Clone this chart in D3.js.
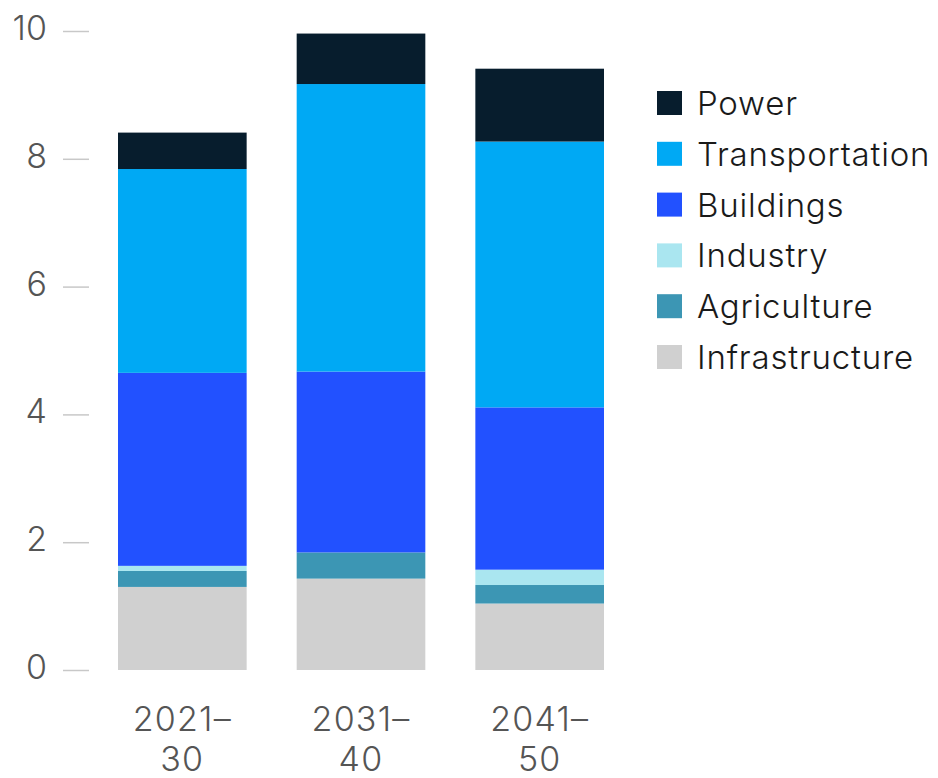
<!DOCTYPE html>
<html>
<head>
<meta charset="utf-8">
<script src="https://cdn.jsdelivr.net/npm/d3@7"></script>
<style>
  html, body { margin: 0; padding: 0; background: #fff; }
  svg { display: block; }
  text { font-family: "Inter", "Liberation Sans", Arial, sans-serif; font-weight: 300; }
</style>
</head>
<body>
<svg id="chart" width="938" height="778"></svg>
<script>
// ---- data ----
const categories = ["2021–30", "2031–40", "2041–50"];
const categoryLines = [["2021–", "30"], ["2031–", "40"], ["2041–", "50"]];
const seriesNames = ["Infrastructure", "Agriculture", "Industry", "Buildings", "Transportation", "Power"];
const infrastructure = [1.30, 1.43, 1.04];
const agriculture    = [0.25, 0.41, 0.29];
const industry       = [0.08, 0.00, 0.24];
const buildings      = [3.02, 2.83, 2.54];
const transportation = [3.19, 4.50, 4.16];
const power          = [0.57, 0.79, 1.14];
const yTicks = [0, 2, 4, 6, 8, 10];
const legendOrder = ["Power", "Transportation", "Buildings", "Industry", "Agriculture", "Infrastructure"];
const colors = {
  Power: "#071d2d",
  Transportation: "#00a9f4",
  Buildings: "#2251ff",
  Industry: "#aae6f0",
  Agriculture: "#3c96b4",
  Infrastructure: "#d0d0d0"
};

// ---- build table ----
const valuesBySeries = {
  Infrastructure: infrastructure, Agriculture: agriculture, Industry: industry,
  Buildings: buildings, Transportation: transportation, Power: power
};
const table = categories.map((c, i) => {
  const row = { category: c };
  seriesNames.forEach(s => row[s] = valuesBySeries[s][i]);
  return row;
});
const stacked = d3.stack().keys(seriesNames)(table);

const svg = d3.select("#chart");
const x = d3.scaleBand().domain(categories).range([118, 604]).paddingInner(0.28).paddingOuter(0);
const y = d3.scaleLinear().domain([0, 10]).range([670, 31]);

// y axis
const yAxis = d3.axisLeft(y).tickValues(yTicks).tickSize(26).tickPadding(16).tickFormat(d3.format("d"));
const gy = svg.append("g").attr("transform", "translate(89,0)").call(yAxis);
gy.select(".domain").remove();
gy.selectAll(".tick line").attr("stroke", "#c8c8c8").attr("stroke-width", 1.5);
gy.selectAll(".tick text")
  .attr("fill", "#555")
  .style("font-size", "34px")
  .attr("dy", "0.25em");

// bars
svg.append("g").selectAll("g").data(stacked).join("g")
  .attr("fill", d => colors[d.key])
  .selectAll("rect").data(d => d).join("rect")
  .attr("x", d => x(d.data.category))
  .attr("width", x.bandwidth())
  .attr("y", d => y(d[1]))
  .attr("height", d => Math.max(0, y(d[0]) - y(d[1])));

// x labels
const xl = svg.append("g").selectAll("text").data(categories).join("text")
  .attr("x", d => x(d) + x.bandwidth() / 2)
  .attr("y", 731)
  .attr("text-anchor", "middle")
  .attr("fill", "#555")
  .style("font-size", "34px")
  .style("letter-spacing", "1.2px");
xl.each(function(d, i) {
  const t = d3.select(this);
  categoryLines[i].forEach((line, j) => {
    t.append("tspan").attr("x", x(d) + x.bandwidth() / 2).attr("dy", j === 0 ? 0 : 40).text(line);
  });
});

// legend
const lg = svg.append("g").selectAll("g").data(legendOrder).join("g")
  .attr("transform", (d, i) => `translate(657, ${91 + i * 50.8})`);
lg.append("rect").attr("width", 25).attr("height", 24).attr("fill", d => colors[d]);
lg.append("text").attr("x", 40).attr("y", 24)
  .attr("fill", "#1a1a1a")
  .style("font-size", "33px")
  .style("letter-spacing", "0.8px")
  .text(d => d);
</script>
</body>
</html>
